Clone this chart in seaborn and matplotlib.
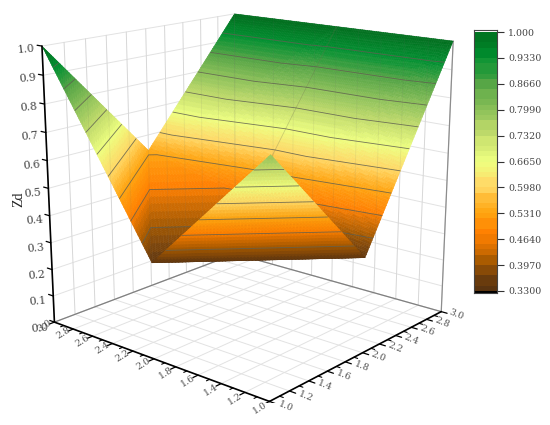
import numpy as np
import matplotlib
matplotlib.use('Agg')
import matplotlib.pyplot as plt
import matplotlib.tri as mtri
from matplotlib.colors import ListedColormap, Normalize
from mpl_toolkits.mplot3d import proj3d
import seaborn as sns

# surface nodes (right floor axis, left floor axis, height)
right_axis = [1.0, 2.0, 3.0]
left_axis = [1.0, 2.0, 3.0]
zd_rows = [
    [0.79, 0.34, 1.0],
    [0.34, 0.44, 1.0],
    [1.0, 0.54, 1.0],
]

# colour bar
bar_ticks = [0.33, 0.397, 0.464, 0.531, 0.598, 0.665, 0.732, 0.799, 0.866, 0.933, 1.0]
bar_labels = ['0.3300', '0.3970', '0.4640', '0.5310', '0.5980', '0.6650',
              '0.7320', '0.7990', '0.8660', '0.9330', '1.000']
bar_colors = ['#5a3410', '#a85a00', '#ff8000', '#ffa510', '#ffd966', '#eeff80',
              '#c3dc6c', '#8fc25a', '#55a545', '#009030', '#00701e']
n_bands = 50

# axis ticks
floor_major = [1.0, 1.2, 1.4, 1.6, 1.8, 2.0, 2.2, 2.4, 2.6, 2.8, 3.0]
floor_minor = [1.1, 1.3, 1.5, 1.7, 1.9, 2.1, 2.3, 2.5, 2.7, 2.9]
zd_ticks = [0.0, 0.1, 0.2, 0.3, 0.4, 0.5, 0.6, 0.7, 0.8, 0.9, 1.0]

sns.set_theme(style='white', font='DejaVu Serif')
plt.rcParams['font.family'] = ['DejaVu Serif']

cmap = ListedColormap(sns.blend_palette(bar_colors, n_colors=n_bands))
norm = Normalize(vmin=bar_ticks[0], vmax=bar_ticks[-1])

fig = plt.figure(figsize=(5.5, 4.25), dpi=100)
ax = fig.add_axes([-0.0561, 0.0527, 1, 1], projection='3d')
ax.patch.set_alpha(0)
ax.set_proj_type('persp', focal_length=0.553)
ax.view_init(elev=15.88, azim=-139.55)
ax.set_box_aspect((1, 1.014, 1.0115), zoom=1.1197)
ax.set_axis_off()
ax.computed_zorder = False
ax.set_xlim(1, 3, view_margin=0)
ax.set_ylim(1, 3, view_margin=0)
ax.set_zlim(0, 1, view_margin=0)

# the surface is cut in two: the front triangle always hides what is behind it
X, Y = np.meshgrid(right_axis, left_axis)
x = X.ravel()
y = Y.ravel()
z = np.array(zd_rows).ravel()
front_tris = [[0, 1, 3]]
back_tris = [[1, 4, 3], [1, 2, 4], [2, 5, 4], [3, 4, 7], [3, 7, 6], [4, 5, 7], [5, 8, 7]]

for tris, order in [(back_tris, 3), (front_tris, 6)]:
    tri = mtri.Triangulation(x, y, tris)
    fine_tri, fine_z = mtri.UniformTriRefiner(tri).refine_field(
        z, triinterpolator=mtri.LinearTriInterpolator(tri, z), subdiv=6)
    surf = ax.plot_trisurf(fine_tri, fine_z, color='white', shade=False, linewidth=0.3,
                           antialiased=True, zorder=order)
    # same colour on faces and edges so the small triangles leave no seams
    tri_cols = cmap(norm(fine_z[fine_tri.triangles].mean(axis=1)))
    surf.set_facecolor(tri_cols)
    surf.set_edgecolor(tri_cols)
    ax.tricontour(tri, z, levels=bar_ticks[1:-1], colors='#5f5f50', linewidths=0.6,
                  alpha=0.85, zorder=order + 1)

# walls and floor
grid_col = '#e2e2e2'
for v in floor_major:
    ax.plot([v, v], [1, 3], [0, 0], color=grid_col, lw=0.7, zorder=1)
    ax.plot([1, 3], [v, v], [0, 0], color=grid_col, lw=0.7, zorder=1)
    ax.plot([v, v], [3, 3], [0, 1], color=grid_col, lw=0.7, zorder=1)
    ax.plot([3, 3], [v, v], [0, 1], color=grid_col, lw=0.7, zorder=1)
    # the surface is slightly see-through in the reference
    ax.plot([v, v], [3, 3], [0, 1], color='#707070', lw=0.6, alpha=0.1, zorder=3.5)
    ax.plot([3, 3], [v, v], [0, 1], color='#707070', lw=0.6, alpha=0.1, zorder=3.5)
for v in zd_ticks:
    ax.plot([1, 3], [3, 3], [v, v], color=grid_col, lw=0.7, zorder=1)
    ax.plot([3, 3], [1, 3], [v, v], color=grid_col, lw=0.7, zorder=1)
ax.plot([1, 3], [3, 3], [0, 0], color='#808080', lw=0.9, zorder=2)
ax.plot([3, 3], [1, 3], [0, 0], color='#808080', lw=0.9, zorder=2)
ax.plot([3, 3], [1, 1], [0, 1], color='#909090', lw=0.9, zorder=2)

# faint mesh line on the back sheet
ax.plot(right_axis[1:], [left_axis[1], left_axis[1]], [zd_rows[1][1], zd_rows[1][2]],
        color='#707050', lw=0.6, alpha=0.3, zorder=3.5)

# axis lines and ticks
ax.plot([1, 3], [1, 1], [0, 0], color='black', lw=1.2, zorder=8)
ax.plot([1, 1], [1, 3], [0, 0], color='black', lw=1.2, zorder=8)
ax.plot([1, 1], [3, 3], [0, 1], color='black', lw=1.2, zorder=8)
for v in floor_major:
    ax.plot([v, v], [1, 0.95], [0, 0], color='black', lw=0.9, zorder=8)
    ax.plot([1, 0.95], [v, v], [0, 0], color='black', lw=0.9, zorder=8)
for v in floor_minor:
    ax.plot([v, v], [1, 0.97], [0, 0], color='black', lw=0.8, zorder=8)
    ax.plot([1, 0.97], [v, v], [0, 0], color='black', lw=0.8, zorder=8)
for v in zd_ticks:
    ax.plot([1, 1], [3, 3.05], [v, v], color='black', lw=0.9, zorder=8)


def label_at(px, py, pz, text, dx=0, dy=0, **kw):
    # text in pixels next to a projected 3D point
    ax.apply_aspect()
    vx, vy, _ = proj3d.proj_transform(px, py, pz, ax.get_proj())
    sx, sy = ax.transData.transform((vx, vy))
    fig.text((sx + dx) / 550, (sy + dy) / 425, text, ha='center', va='center', **kw)


for v in floor_major:
    label_at(v, 0.82, 0, f'{v:.1f}', dx=-6, dy=3, rotation=-22, fontsize=6.8, color='#555555')
    label_at(0.8, v, 0, f'{v:.1f}', dx=11, dy=4, rotation=32, fontsize=6.8, color='#555555')
for v in zd_ticks:
    label_at(1, 3.17, v - 0.02 - 0.025 * (1 - v), f'{v:.1f}', rotation=5, fontsize=7.8,
             color='#444444')

fig.text(19 / 550, 1 - 199 / 425, 'Zd', rotation=90, ha='center', va='center',
         fontsize=10, color='#222222', family='Liberation Serif')

# colour bar, with the white and black end bands outside the value range
cax = fig.add_axes([474 / 550, 1 - 293 / 425, 23 / 550, 263 / 425])
band_edges = np.linspace(bar_ticks[0], bar_ticks[-1], n_bands + 1)
cax.pcolormesh([0, 1], band_edges, band_edges[:-1].reshape(-1, 1), cmap=cmap, norm=norm)
end_band = 0.0055
cax.axhspan(bar_ticks[0] - end_band, bar_ticks[0], color='black', lw=0)
cax.axhspan(bar_ticks[-1], bar_ticks[-1] + end_band, color='white', lw=0)
cax.set_ylim(bar_ticks[0] - end_band, bar_ticks[-1] + end_band)
cax.set_xticks([])
cax.yaxis.tick_right()
cax.set_yticks(bar_ticks)
cax.set_yticklabels(bar_labels, fontsize=6.8, color='#444444')
cax.tick_params(axis='y', length=5, width=0.8, color='#333333', pad=3, right=True)
for spine in cax.spines.values():
    spine.set_color('#444444')
    spine.set_linewidth(0.8)

fig.savefig('out.png', dpi=100)
